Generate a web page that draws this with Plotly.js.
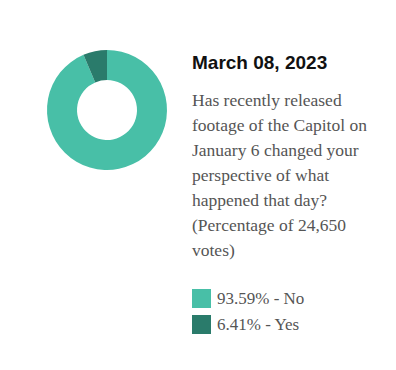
<!DOCTYPE html>
<html>
<head>
<meta charset="utf-8">
<script src="https://cdn.plot.ly/plotly-3.0.1.min.js"></script>
<style>html,body{margin:0;padding:0;background:#fff;}#chart{width:396px;height:370px;}</style>
</head>
<body>
<div id="chart"></div>
<script>
const categories = ["No", "Yes"];
const percents = [93.59, 6.41];
const colors = ["#48bfa7", "#2a7b6b"];
const dateTitle = "March 08, 2023";
const questionLines = [
  "Has recently released",
  "footage of the Capitol on",
  "January 6 changed your",
  "perspective of what",
  "happened that day?",
  "(Percentage of 24,650",
  "votes)"
];

const W = 396, H = 370;
const px = x => x / W;
const py = y => 1 - y / H;

const trace = {
  type: "pie",
  labels: categories,
  values: percents,
  hole: 0.5,
  sort: false,
  direction: "clockwise",
  rotation: 0,
  marker: { colors: colors, line: { width: 0 } },
  textinfo: "none",
  hoverinfo: "label+percent",
  showlegend: false,
  domain: { x: [px(47), px(167)], y: [py(170), py(50)] }
};

const annotations = [];
const shapes = [];
annotations.push({
  text: "<b>" + dateTitle + "</b>", xref: "paper", yref: "paper",
  x: px(190), y: py(62), xanchor: "left", yanchor: "middle", showarrow: false,
  font: { family: "Liberation Sans, Arial, sans-serif", size: 19, color: "#111" }
});
questionLines.forEach((t, i) => {
  annotations.push({
    text: t, xref: "paper", yref: "paper",
    x: px(190), y: py(100 + i * 25), xanchor: "left", yanchor: "middle", showarrow: false,
    font: { family: "Liberation Serif, serif", size: 17.5, color: "#555" }
  });
});
categories.forEach((c, i) => {
  const yc = 298.5 + i * 26;
  shapes.push({
    type: "rect", xref: "paper", yref: "paper",
    x0: px(192), x1: px(211), y0: py(yc + 9.5), y1: py(yc - 9.5),
    fillcolor: colors[i], line: { width: 0 }
  });
  annotations.push({
    text: percents[i].toFixed(2) + "% - " + c, xref: "paper", yref: "paper",
    x: px(215), y: py(yc), xanchor: "left", yanchor: "middle", showarrow: false,
    font: { family: "Liberation Serif, serif", size: 17, color: "#555" }
  });
});

const layout = {
  width: W, height: H,
  margin: { l: 0, r: 0, t: 0, b: 0 },
  paper_bgcolor: "#fff",
  plot_bgcolor: "#fff",
  annotations: annotations,
  shapes: shapes
};

Plotly.newPlot("chart", [trace], layout, { displayModeBar: false, staticPlot: true });
</script>
</body>
</html>
